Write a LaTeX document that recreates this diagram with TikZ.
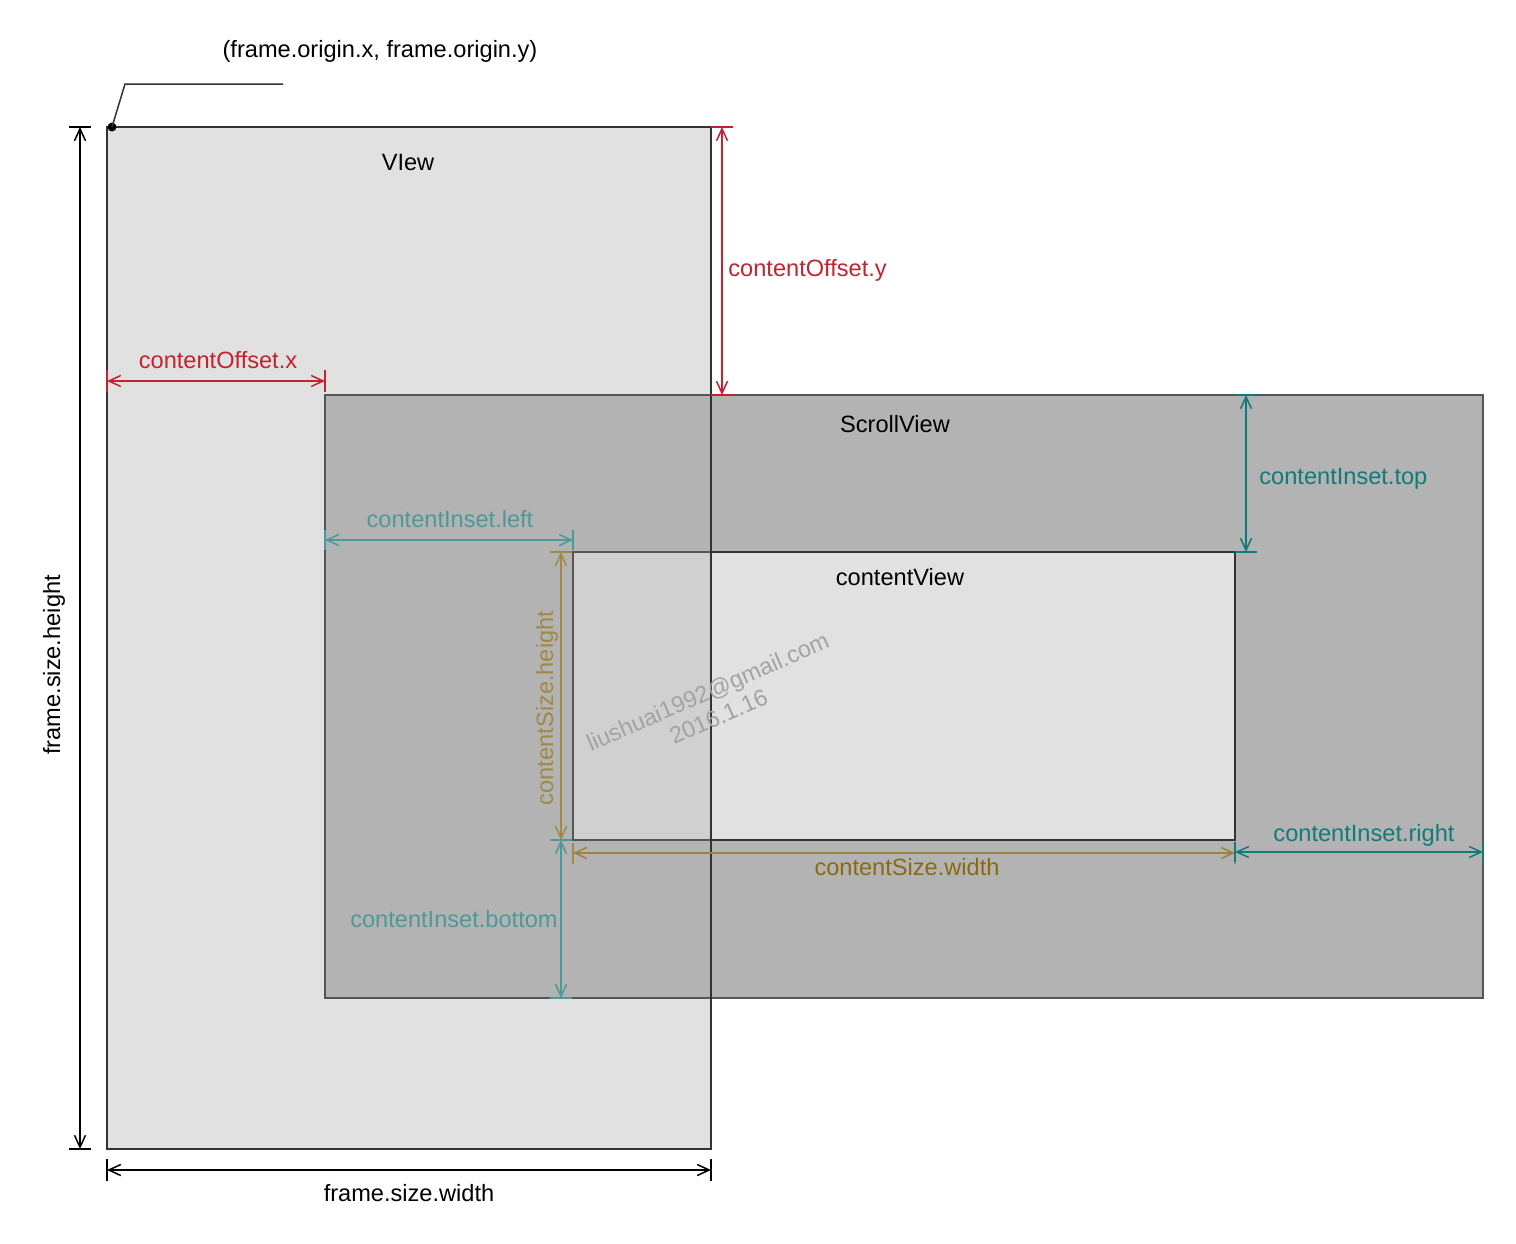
\documentclass[tikz,border=0pt]{standalone}
\usepackage{fontspec}
\setmainfont{Liberation Sans}
\usetikzlibrary{arrows.meta}
\definecolor{lightfill}{HTML}{E1E1E1}
\definecolor{midfill}{HTML}{D0D0D0}
\definecolor{scrollfill}{HTML}{B3B3B3}
\definecolor{edgedark}{HTML}{333333}
\definecolor{edgemid}{HTML}{555555}
\definecolor{offred}{HTML}{C4222F}
\definecolor{tealA}{HTML}{4D9999}
\definecolor{tealB}{HTML}{117A7A}
\definecolor{oliveA}{HTML}{A08845}
\definecolor{oliveB}{HTML}{8A6A10}
\definecolor{wmark}{HTML}{A3A3A3}
\begin{document}
\begin{tikzpicture}[x=0.5pt,y=-0.5pt,
  dimline/.style={line width=0.75pt,{Straight Barb[length=6pt,width=5.5pt]}-{Straight Barb[length=6pt,width=5.5pt]}},
  tickline/.style={line width=0.75pt},
  lbl/.style={font=\fontsize{11.8}{14}\selectfont, inner sep=0pt, anchor=base}]
\useasboundingbox (0,0) rectangle (1516,1243);
\fill[white] (0,0) rectangle (1516,1243);
% corners
\coordinate (vtl) at (107,127); \coordinate (vbr) at (711,1149);
\coordinate (stl) at (325,395); \coordinate (sbr) at (1483,998);
\coordinate (ctl) at (573,552); \coordinate (cbr) at (1235,840);
% fills
\fill[lightfill] (vtl) rectangle (vbr);
\fill[scrollfill] (stl) rectangle (sbr);
\fill[midfill] (ctl) rectangle (711,840);
\fill[lightfill] (711,552) rectangle (cbr);
% borders
\draw[edgemid, line width=0.75pt] (stl) rectangle (sbr);
\draw[edgemid, line width=0.75pt] (ctl) rectangle (cbr);
\draw[edgedark, line width=0.75pt] (711,552) -- (1235,552) -- (1235,840) -- (711,840);
\draw[edgedark, line width=0.75pt] (vtl) rectangle (vbr);
% titles
\node[lbl] (tview) at (408,170) {VIew};
\node[lbl] (tscroll) at (895,432) {ScrollView};
\node[lbl] (tcontent) at (900,585) {contentView};
% origin leader
\node[lbl] (torigin) at (380,57) {(frame.origin.x, frame.origin.y)};
\coordinate (obend) at (125,84); \coordinate (oend) at (283,84);
\fill[black] (112,127) circle (4.5);
\coordinate (odot) at (112,127);
\draw[edgedark, line width=0.75pt] (odot) -- (obend) -- (oend);
% watermark
\node[font=\fontsize{11.7}{13.5}\selectfont, text=wmark, rotate=23.6, align=center, inner sep=0pt] (wm) at (713,704) {liushuai1992@gmail.com\\2016.1.16};
% frame.size.height
\coordinate (fh1) at (80,127); \coordinate (fh2) at (80,1149);
\draw[dimline, black] (fh1) -- (fh2);
\draw[tickline] (fh1) ++(-11,0) -- ++(22,0);
\draw[tickline] (fh2) ++(-11,0) -- ++(22,0);
\node[lbl, rotate=90] (lfh) at (60,665) {frame.size.height};
% frame.size.width
\coordinate (fw1) at (107,1170); \coordinate (fw2) at (711,1170);
\draw[dimline, black] (fw1) -- (fw2);
\draw[tickline] (fw1) ++(0,-11) -- ++(0,22);
\draw[tickline] (fw2) ++(0,-11) -- ++(0,22);
\node[lbl] (lfw) at (409,1201) {frame.size.width};
% contentOffset.y
\coordinate (oy1) at (722,127); \coordinate (oy2) at (722,395);
\draw[dimline, offred] (oy1) -- (oy2);
\draw[tickline, offred] (oy1) ++(-11,0) -- ++(22,0);
\draw[tickline, offred] (oy2) ++(-11,0) -- ++(22,0);
\node[lbl, anchor=base west, text=offred] (loy) at (728,276) {contentOffset.y};
% contentOffset.x
\coordinate (ox1) at (107,381); \coordinate (ox2) at (325,381);
\draw[dimline, offred] (ox1) -- (ox2);
\draw[tickline, offred] (ox1) ++(0,-11) -- ++(0,22);
\draw[tickline, offred] (ox2) ++(0,-11) -- ++(0,22);
\node[lbl, text=offred] (lox) at (218,368) {contentOffset.x};
% contentInset.left
\coordinate (il1) at (325,540); \coordinate (il2) at (573,540);
\draw[dimline, tealA] (il1) -- (il2);
\draw[tickline, tealA] (il1) ++(0,-10) -- ++(0,20);
\draw[tickline, tealA] (il2) ++(0,-10) -- ++(0,20);
\node[lbl, text=tealA] (lil) at (450,527) {contentInset.left};
% contentInset.top
\coordinate (it1) at (1246,395); \coordinate (it2) at (1246,552);
\draw[dimline, tealB] (it1) -- (it2);
\draw[tickline, tealB] (it1) ++(-11,0) -- ++(22,0);
\draw[tickline, tealB] (it2) ++(-11,0) -- ++(22,0);
\node[lbl, anchor=base west, text=tealB] (lit) at (1259,484) {contentInset.top};
% contentSize.height
\coordinate (sh1) at (561,552); \coordinate (sh2) at (561,840);
\draw[dimline, oliveA] (sh1) -- (sh2);
\draw[tickline, oliveA] (sh1) ++(-11,0) -- ++(22,0);
\node[lbl, rotate=90, text=oliveA] (lsh) at (553,708) {contentSize.height};
% contentInset.bottom
\coordinate (ib1) at (561,840); \coordinate (ib2) at (561,998);
\draw[dimline, tealA] (ib1) -- (ib2);
\draw[tickline, tealA] (ib1) ++(-11,0) -- ++(22,0);
\draw[tickline, tealA] (ib2) ++(-11,0) -- ++(22,0);
\node[lbl, anchor=base east, text=tealA] (lib) at (558,927) {contentInset.bottom};
% contentSize.width
\coordinate (sw1) at (573,853); \coordinate (sw2) at (1235,853);
\draw[dimline, oliveA!80!oliveB] (sw1) -- (sw2);
\draw[tickline, oliveA] (sw1) ++(0,-10) -- ++(0,21);
\draw[tickline, oliveA] (sw2) ++(0,-10) -- ++(0,21);
\node[lbl, text=oliveB] (lsw) at (907,875) {contentSize.width};
% contentInset.right
\coordinate (ir1) at (1235,852); \coordinate (ir2) at (1483,852);
\draw[dimline, tealB] (ir1) -- (ir2);
\draw[tickline, tealB] (ir1) ++(0,-10) -- ++(0,20);
\draw[tickline, tealB] (ir2) ++(0,-10) -- ++(0,20);
\node[lbl, text=tealB] (lir) at (1364,841) {contentInset.right};
\end{tikzpicture}
\end{document}
